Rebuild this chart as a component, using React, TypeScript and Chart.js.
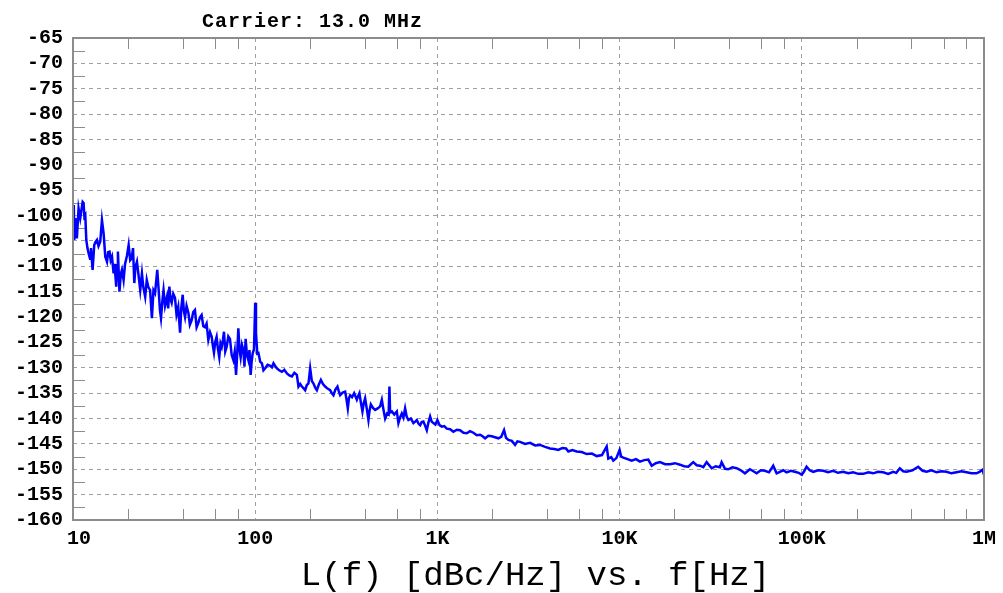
import React, { useEffect, useRef } from 'react';
import { Chart, registerables } from 'chart.js';

Chart.register(...registerables);

// Offset frequency (Hz) and single-sideband phase noise (dBc/Hz)
const freqHz = [
  10.1, 10.16, 10.3, 10.5, 10.73, 10.96, 11.2, 11.3, 11.43, 11.55, 11.68, 11.83, 12.0, 12.18, 12.4, 12.55, 12.81,
  13.08, 13.3, 13.54, 13.8, 14.11, 14.42, 14.72, 15.04, 15.37, 15.6, 15.87, 16.1, 16.37, 16.7, 16.9, 17.27, 17.45,
  17.64, 17.99, 18.3, 18.56, 18.95, 19.3, 19.8, 20.2, 20.6, 21.0, 21.35, 21.7, 22.0, 22.44, 22.9, 23.39, 23.9,
  24.3, 24.9, 25.4, 25.9, 26.5, 27.1, 27.65, 28.2, 28.6, 29.0, 29.5, 30.0, 30.4, 31.0, 31.4, 32.0, 32.8, 33.3,
  33.8, 34.3, 34.8, 35.5, 36.3, 37.0, 37.8, 38.7, 39.3, 40.0, 40.6, 41.2, 42.0, 43.0, 43.8, 44.8, 45.7, 46.7,
  47.7, 48.7, 49.7, 50.8, 51.9, 53.0, 54.1, 55.3, 56.5, 57.7, 58.5, 59.4, 60.4, 61.4, 62.4, 63.5, 64.5, 65.5,
  66.5, 67.4, 68.5, 69.7, 71.2, 72.7, 74.3, 75.9, 77.2, 78.5, 79.6, 80.8, 82.0, 83.2, 84.6, 86.1, 87.3, 88.6,
  90.1, 91.7, 93.0, 94.4, 95.6, 96.8, 98.5, 100, 101, 102.7,
  104.2, 106.5, 108.8, 111, 113.5, 117, 120.9, 123.5, 126, 128.5, 131.5, 135.5, 140.1, 144.5, 149.3, 154, 159,
  164, 169.3, 172.8, 176.5, 180.4, 184, 188, 192, 196, 200.3, 204.5, 208.9, 213.5, 218, 223.5, 229.4, 235.5,
  242.1, 249.5, 257.8, 263, 268.8, 275.5, 282.8, 287.5, 292.6, 302, 311.6, 317, 322.4, 327, 332, 340, 349.1,
  355, 361.3, 367, 373.3, 380, 387.8, 394, 401.2, 409, 418.3, 424, 431.2, 443, 455.3, 470, 485, 495.5, 505,
  516.6, 530, 540, 545.5, 550, 562.3, 580, 598.7, 611, 624, 637.8, 651, 665, 678, 693.3, 715, 738.6, 755,
  770.9, 787, 803.7, 820, 837.9, 856, 874.7, 893, 912, 930, 950.6, 975, 1000, 1028, 1057, 1090, 1126, 1175,
  1224, 1278, 1332, 1390, 1450, 1510, 1576, 1645, 1715, 1770, 1827, 1905, 1988, 2070, 2161, 2240, 2322, 2380,
  2452, 2560, 2669, 2750, 2843, 3030, 3225, 3440, 3660, 3900, 4152, 4380, 4611, 4850, 5082, 5232, 5500, 5818,
  6200, 6600, 7050, 7489, 8000, 8496, 8670, 9000, 9236, 9600, 10000, 10200, 10480, 11050, 11650, 12300, 12940,
  13650, 14370, 15000, 15800, 16660, 17750, 18900, 20150, 21450, 22600, 23820, 25370, 26500, 27610, 28800,
  30050, 32010, 33700, 35540, 36310, 37900, 39480, 41600, 43900, 46300, 48740, 51920, 54200, 56500, 59600,
  62760, 66100, 69680, 72750, 75840, 79000, 82530, 87000, 91650, 96000, 100000, 103000, 106200, 110500,
  115500, 123000, 131100, 139500, 148700, 158000, 168700, 180000, 191400, 204000, 217200, 232000, 246500,
  262000, 279600, 298000, 317200, 330000, 345300, 360000, 375700, 405000, 435100, 460000, 483700, 515000,
  548900, 585000, 622700, 662000, 706500, 752000, 801800, 853000, 909700, 945000, 981300, 1000000,
];
const levelDbc = [
  -97.9, -104.8, -100.5, -104.5, -98.6, -100.5, -98.2, -97.3, -97.5, -100.2, -99.9, -104.8, -106.4, -107.4,
  -108.5, -106.4, -110.7, -105.8, -105.2, -104.8, -106, -105.1, -100.9, -103.5, -108.1, -109.1, -107.2, -107.1,
  -108.8, -108.1, -111.4, -109.5, -114, -109.8, -107.1, -115, -111.5, -110.7, -112.7, -109.6, -107.8, -105.8,
  -108.8, -108.4, -106.4, -113.3, -110.2, -109.1, -111.8, -114.7, -111.4, -114, -116, -112.7, -114.1, -114.7,
  -120.2, -114.7, -115.3, -113, -110.7, -114.5, -118.6, -120.2, -116.5, -114.7, -117.8, -116, -118.3, -114,
  -116.5, -117.2, -115.4, -116.2, -119.5, -118, -123.1, -118.2, -115.6, -118.8, -120, -117.8, -119.2, -121.5,
  -120.6, -119, -118.6, -122, -121.2, -120.1, -119.6, -121.8, -122, -121.3, -124.5, -123, -123.9, -125.5, -127,
  -124.8, -123.9, -126.2, -127.9, -125.2, -125.9, -124.5, -122.9, -126.8, -125.9, -123.8, -124.3, -127.5,
  -128.5, -126.8, -131.4, -127.5, -122.2, -126.3, -127.9, -125.5, -126.5, -129.8, -124.3, -127.5, -128.5,
  -126.5, -131.4, -128.8, -127.2, -126.3, -117.2, -123.1, -127.2,
  -127.1, -128.8, -129.1, -130.5, -130.1, -129.4, -129.6, -129.9, -129.1, -129.6, -130.1, -130.5, -130.8,
  -130.4, -131.1, -131.5, -131.7, -131.0, -131.4, -133.7, -133.2, -133.7, -134.0, -134.4, -133.4, -133.1,
  -130.1, -132.6, -133.1, -133.9, -134.4, -133.3, -132.4, -133.2, -133.7, -134.1, -134.4, -135.0, -135.4,
  -134.3, -133.7, -134.6, -135.4, -134.9, -134.7, -136.2, -138, -136.0, -135.4, -135.8, -135, -135.6, -136.3,
  -135.6, -135, -136.8, -138.6, -137.0, -136, -137.9, -140.3, -138.5, -137.2, -137.9, -138.3, -138.0, -137.6,
  -136.3, -138.1, -140, -139.0, -139.2, -133.7, -138.8, -138.6, -139.2, -138.6, -140.9, -139.8, -139, -139.8,
  -138, -139.6, -140.3, -140.0, -140.9, -140.6, -140.3, -141.0, -141.3, -140.7, -140.6, -141.4, -142.3,
  -140.8, -139.6, -140.6, -140.9, -141.2, -140.3, -141.3, -141.6, -141.5, -142, -142.1, -142.6, -142.2,
  -142.3, -142.8, -142.9, -142.5, -142.8, -143.3, -143.2, -143.5, -143.9, -143.4, -143.5, -143.7, -143.9,
  -143.6, -142.3, -143.8, -144.2, -144.4, -145.2, -144.5, -144.6, -145.0, -144.8, -145.3, -145.2, -145.6,
  -145.9, -146.0, -146.2, -145.8, -145.9, -146.5, -146.2, -146.5, -146.6, -147, -146.9, -147.4, -147.2,
  -145.5, -147.9, -147.6, -148.3, -147.8, -146.2, -147.5, -147.7, -148.0, -148.3, -148.0, -148.5, -148.2,
  -148.1, -149.3, -148.8, -148.6, -149.0, -149, -148.8, -149.1, -149.4, -149.5, -148.6, -149.2, -149.3,
  -149.6, -148.6, -149.8, -149.4, -149.6, -148.6, -149.9, -150, -149.6, -149.8, -150.2, -150.8, -150,
  -150.4, -150.8, -150.2, -150.3, -150.6, -149.3, -150.8, -150.5, -150.2, -150.6, -150.3, -150.5, -150.7,
  -151.1, -150.4, -149.5, -150.2, -150.5, -150.2, -150.3, -150.6, -150.3, -150.7, -150.5, -150.8, -150.6,
  -150.9, -150.9, -150.6, -150.8, -150.5, -150.6, -150.9, -150.5, -150.7, -149.8, -150.4, -150.5, -150.2,
  -149.5, -150.3, -150.5, -150.2, -150.6, -150.4, -150.5, -150.8, -150.6, -150.4, -150.6, -150.8, -150.8,
  -150.5, -150.1, -151.1,
];

const xTickValues = [10, 100, 1000, 10000, 100000, 1000000];
const xTickLabels = [' 10', '100', '1K', '10K', '100K', '1M'];
const xMinorMultipliers = [2, 4, 6, 8];
const yMin = -160;
const yMax = -65;
const yStep = 5;
const chartTitle = 'Carrier: 13.0 MHz';
const axisTitle = 'L(f) [dBc/Hz] vs. f[Hz]';

const GRID = '#a0a0a0';
const FRAME = '#8c8c8c';

export default function App() {
  const ref = useRef<HTMLCanvasElement>(null);

  useEffect(() => {
    const canvas = ref.current;
    if (!canvas) return;

    const decor = {
      id: 'decor',
      beforeDatasetsDraw(chart: any) {
        const { ctx, chartArea: a, scales } = chart;
        ctx.save();
        ctx.strokeStyle = FRAME;
        ctx.lineWidth = 1;
        ctx.beginPath();
        for (let d = xTickValues[0]; d < xTickValues[xTickValues.length - 1]; d *= 10) {
          for (const m of xMinorMultipliers) {
            const x = Math.round(scales.x.getPixelForValue(d * m)) + 0.5;
            ctx.moveTo(x, a.bottom);
            ctx.lineTo(x, a.bottom - 11);
            ctx.moveTo(x, a.top);
            ctx.lineTo(x, a.top + 11);
          }
        }
        for (let v = yMin + yStep / 2; v < yMax; v += yStep) {
          const y = Math.round(scales.y.getPixelForValue(v)) + 0.5;
          ctx.moveTo(a.left, y);
          ctx.lineTo(a.left + 12, y);
        }
        ctx.stroke();
        ctx.restore();
      },
      afterDraw(chart: any) {
        const { ctx, chartArea: a } = chart;
        ctx.save();
        ctx.strokeStyle = FRAME;
        ctx.lineWidth = 2;
        ctx.strokeRect(a.left, a.top, a.right - a.left, a.bottom - a.top);
        ctx.fillStyle = '#000';
        ctx.textAlign = 'center';
        ctx.textBaseline = 'alphabetic';
        ctx.font = 'bold 20px "Liberation Mono"';
        (ctx as any).letterSpacing = '1px';
        ctx.fillText(chartTitle, a.left + (a.right - a.left) * 0.263, 27);
        (ctx as any).letterSpacing = '0px';
        ctx.font = '34px "Liberation Mono"';
        ctx.fillText(axisTitle, (a.left + a.right) / 2 + 7, 585);
        ctx.restore();
      },
    };

    const chart = new Chart(canvas, {
      type: 'line',
      data: {
        datasets: [
          {
            data: freqHz.map((f, i) => ({ x: f, y: levelDbc[i] })),
            borderColor: '#0000ff',
            borderWidth: 2.5,
            pointRadius: 0,
            tension: 0,
            fill: false,
          },
        ],
      },
      options: {
        animation: false,
        responsive: false,
        maintainAspectRatio: false,
        layout: { padding: { left: 0, top: 38, right: 19, bottom: 0 } },
        plugins: { legend: { display: false }, tooltip: { enabled: false }, title: { display: false } },
        scales: {
          x: {
            type: 'logarithmic',
            min: xTickValues[0],
            max: xTickValues[xTickValues.length - 1],
            afterBuildTicks: (scale: any) => {
              scale.ticks = xTickValues.map((v) => ({ value: v }));
            },
            afterFit: (scale: any) => {
              scale.height = 73;
            },
            ticks: {
              autoSkip: false,
              maxRotation: 0,
              padding: 7,
              color: '#000',
              font: { family: 'Liberation Mono', weight: 'bold', size: 20 },
              callback: (_v: any, i: number) => xTickLabels[i],
            },
            grid: { color: GRID, lineWidth: 1, drawTicks: false },
            border: { display: false, dash: [4, 4] },
          },
          y: {
            type: 'linear',
            min: yMin,
            max: yMax,
            afterFit: (scale: any) => {
              scale.width = 73;
            },
            ticks: {
              stepSize: yStep,
              autoSkip: false,
              padding: 10,
              color: '#000',
              font: { family: 'Liberation Mono', weight: 'bold', size: 20 },
            },
            grid: { color: GRID, lineWidth: 1, drawTicks: false },
            border: { display: false, dash: [4, 4] },
          },
        },
      },
      plugins: [decor],
    });

    return () => chart.destroy();
  }, []);

  return (
    <div style={{ position: 'fixed', left: 0, top: 0, width: 1003, height: 593, background: '#fff' }}>
      <canvas ref={ref} width={1003} height={593} style={{ display: 'block' }} />
    </div>
  );
}
